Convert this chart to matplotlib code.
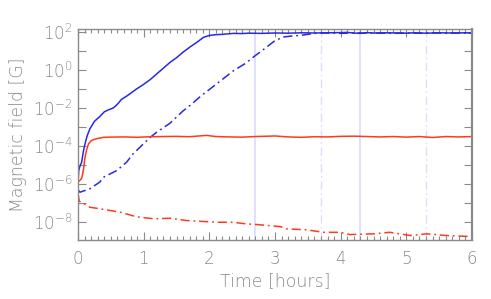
import numpy as np
import matplotlib
matplotlib.use("Agg")
import matplotlib.pyplot as plt
from matplotlib.ticker import FixedLocator, FuncFormatter

# time in hours, field as log10(B [G])
t_bs = [0, 0.01, 0.03, 0.056, 0.08, 0.107, 0.14, 0.18, 0.25, 0.33, 0.40, 0.46,
        0.54, 0.60, 0.66, 0.75, 0.89, 1.0, 1.10, 1.25, 1.40, 1.50, 1.60, 1.70,
        1.81, 1.91, 2.0, 2.09, 2.2, 2.37, 2.5, 2.6, 2.8, 3.0, 3.2, 3.4, 3.6,
        3.8, 4.0, 4.1, 4.2, 4.3, 4.4, 4.5, 4.7, 4.9, 5.0, 5.1, 5.3, 5.5, 5.7,
        5.9, 6.0]
b_bs = [-6.0, -5.3, -5.05, -4.85, -4.3, -3.88, -3.45, -3.1, -2.7, -2.45, -2.2,
        -2.1, -1.99, -1.8, -1.55, -1.35, -1.0, -0.75, -0.5, -0.05, 0.4, 0.65,
        0.94, 1.2, 1.46, 1.72, 1.82, 1.86, 1.88, 1.93, 1.92, 1.94, 1.93, 1.95,
        1.94, 1.96, 1.95, 1.96, 1.97, 1.98, 1.95, 1.93, 1.97, 1.95, 1.96, 1.95,
        1.94, 1.96, 1.94, 1.96, 1.95, 1.96, 1.95]

t_bd = [0, 0.03, 0.18, 0.33, 0.39, 0.59, 0.74, 0.84, 0.89, 1.10, 1.2, 1.40,
        1.60, 1.71, 1.86, 2.11, 2.37, 2.55, 2.70, 2.87, 3.0, 3.13, 3.25, 3.38,
        3.5, 3.63, 3.8, 4.0, 4.2, 4.4, 4.6, 4.8, 5.0, 5.2, 5.4, 5.6, 5.8, 6.0]
b_bd = [-6.3, -6.43, -6.25, -5.9, -5.64, -5.29, -4.85, -4.4, -4.24, -3.54,
        -3.27, -2.8, -2.15, -1.85, -1.4, -0.73, -0.03, 0.35, 0.76, 1.2, 1.55,
        1.74, 1.79, 1.82, 1.88, 1.94, 1.95, 1.93, 1.96, 1.94, 1.95, 1.93, 1.95,
        1.94, 1.96, 1.94, 1.95, 1.94]

t_rs = [0, 0.03, 0.056, 0.08, 0.107, 0.13, 0.16, 0.2, 0.23, 0.3, 0.39, 0.5,
        0.7, 0.9, 1.1, 1.3, 1.5, 1.7, 1.8, 1.96, 2.1, 2.3, 2.5, 2.7, 2.9, 3.0,
        3.2, 3.4, 3.6, 3.8, 4.0, 4.2, 4.4, 4.6, 4.8, 5.0, 5.2, 5.4, 5.6, 5.8,
        6.0]
b_rs = [-5.9, -5.8, -5.7, -5.3, -4.59, -4.2, -3.88, -3.72, -3.67, -3.6, -3.54,
        -3.53, -3.52, -3.54, -3.51, -3.50, -3.49, -3.51, -3.48, -3.44, -3.50,
        -3.52, -3.53, -3.50, -3.48, -3.47, -3.52, -3.54, -3.51, -3.52, -3.49,
        -3.48, -3.50, -3.52, -3.50, -3.53, -3.50, -3.55, -3.50, -3.52, -3.50]

t_rd = [0, 0.02, 0.05, 0.18, 0.33, 0.64, 0.89, 1.15, 1.4, 1.65, 1.86, 2.11,
        2.36, 2.57, 2.72, 3.08, 3.18, 3.48, 3.74, 3.99, 4.14, 4.5, 4.75, 5.06,
        5.31, 5.61, 5.97, 6.0]
b_rd = [-6.5, -6.9, -6.96, -7.22, -7.3, -7.48, -7.72, -7.83, -7.8, -7.92,
        -7.96, -8.01, -8.01, -8.1, -8.13, -8.24, -8.36, -8.41, -8.54, -8.54,
        -8.66, -8.62, -8.54, -8.71, -8.62, -8.71, -8.76, -8.76]

vlines_solid = [2.7, 4.3]
vlines_dashdot = [3.7, 5.3]

grey = "#8a8a8a"
blue = "#2828e6"
red = "#ff3a1a"
dashdot = (0, (6, 2.5, 1.2, 2.5))

plt.rcParams['font.family'] = ['DejaVu Sans']

fig = plt.figure(figsize=(4.91, 2.99), dpi=100, facecolor='white')
ax = fig.add_axes([0.1589, 0.197, 0.8024, 0.706])

for x in vlines_solid:
    ax.axvline(x, color="#dcdcff", lw=1.3, zorder=1)
for x in vlines_dashdot:
    ax.axvline(x, color="#dcdcff", lw=1.0, ls=dashdot, zorder=1)

ax.plot(t_bs, 10 ** np.array(b_bs), color=blue, lw=1.1)
ax.plot(t_bd, 10 ** np.array(b_bd), color=blue, lw=1.1, ls=dashdot)
ax.plot(t_rs, 10 ** np.array(b_rs), color=red, lw=1.1)
ax.plot(t_rd, 10 ** np.array(b_rd), color=red, lw=1.1, ls=dashdot)

ax.set_yscale('log')
ax.set_xlim(0, 6)
ax.set_ylim(10 ** -8.95, 10 ** 2.16)

ax.xaxis.set_major_locator(FixedLocator(range(7)))
ax.xaxis.set_minor_locator(FixedLocator(np.arange(0, 6.01, 0.1)))
ax.yaxis.set_major_locator(FixedLocator([10.0 ** k for k in range(-8, 3)]))
ax.yaxis.set_minor_locator(FixedLocator([]))


def ylab(v, pos):
    k = int(round(np.log10(v)))
    if k % 2:
        return ""
    return r"$\mathregular{10^{%d}}$" % k


ax.yaxis.set_major_formatter(FuncFormatter(ylab))

ax.tick_params(which='both', direction='in', top=True, right=True,
               color=grey, labelcolor=grey, labelsize=12, width=0.8)
ax.tick_params(axis='y', which='major', length=6, pad=4)
ax.tick_params(axis='x', which='major', length=6, pad=7)
ax.tick_params(axis='x', which='minor', length=3)
for lbl in ax.get_xticklabels() + ax.get_yticklabels():
    lbl.set_fontweight('light')
for s in ax.spines.values():
    s.set_color(grey)
    s.set_linewidth(1.0)
ax.spines['right'].set_linewidth(1.6)

ax.set_xlabel("Time [hours]", color=grey, fontsize=12.5, labelpad=3,
              fontweight='light')
ax.set_ylabel("Magnetic field [G]", color=grey, fontsize=12.5, labelpad=4,
              fontweight='light')

fig.savefig("out.png", dpi=100)
